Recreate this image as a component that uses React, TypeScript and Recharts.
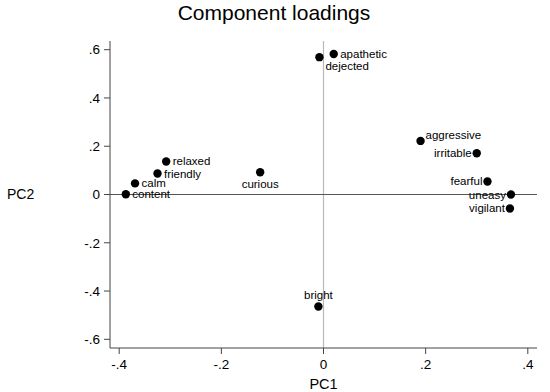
import { ScatterChart, Scatter, XAxis, YAxis, ReferenceLine } from 'recharts';

// PCA loadings
const NAMES = [
  'apathetic', 'dejected', 'relaxed', 'friendly', 'calm', 'content', 'curious',
  'aggressive', 'irritable', 'fearful', 'uneasy', 'vigilant', 'bright',
];
const PC1 = [0.02, -0.008, -0.308, -0.325, -0.369, -0.387, -0.124, 0.19, 0.3, 0.321, 0.367, 0.365, -0.01];
const PC2 = [0.582, 0.569, 0.137, 0.087, 0.046, 0.001, 0.092, 0.222, 0.171, 0.054, 0.0, -0.058, -0.464];

const X_TICKS = [-0.4, -0.2, 0, 0.2, 0.4];
const Y_TICKS = [-0.6, -0.4, -0.2, 0, 0.2, 0.4, 0.6];

// marker label placement (clock-ish): r, l, t, b, tr, br
const LABEL_POS: Record<string, string> = {
  dejected: 'br',
  curious: 'b',
  bright: 't',
  aggressive: 'tr',
  irritable: 'l',
  fearful: 'l',
  uneasy: 'l',
  vigilant: 'l',
};

const FONT = '"Liberation Sans", Arial, sans-serif';
const AXIS_COLOR = '#444';

const data = NAMES.map((name, i) => ({ name, x: PC1[i], y: PC2[i] }));

const fmt = (v: number) => (v === 0 ? '0' : v.toFixed(1).replace('0.', '.'));

function LabeledDot(props: any) {
  const { cx, cy, payload } = props;
  const pos = LABEL_POS[payload.name] ?? 'r';
  let tx = cx + 6.5;
  let ty = cy + 4;
  let anchor: 'start' | 'end' | 'middle' = 'start';
  if (pos === 'l') {
    tx = cx - 5;
    anchor = 'end';
  } else if (pos === 't') {
    tx = cx;
    ty = cy - 7;
    anchor = 'middle';
  } else if (pos === 'b') {
    tx = cx;
    ty = cy + 16;
    anchor = 'middle';
  } else if (pos === 'br') {
    tx = cx + 6;
    ty = cy + 12.6;
  } else if (pos === 'tr') {
    tx = cx + 5;
    ty = cy - 2;
  }
  return (
    <g>
      <circle cx={cx} cy={cy} r={4.2} fill="#000" />
      <text x={tx} y={ty} textAnchor={anchor} fontSize={11.5} fontFamily={FONT} fill="#000">
        {payload.name}
      </text>
    </g>
  );
}

export default function App() {
  return (
    <div style={{ position: 'absolute', left: 0, top: 0, width: 550, height: 392, background: '#fff' }}>
      <div
        style={{
          position: 'absolute',
          top: 0,
          left: 0,
          width: 548,
          textAlign: 'center',
          fontFamily: FONT,
          fontSize: 21,
          lineHeight: '26px',
          color: '#000',
        }}
      >
        Component loadings
      </div>
      <ScatterChart width={550} height={392} margin={{ top: 41, right: 13, bottom: 0, left: 0 }}>
        <XAxis
          type="number"
          dataKey="x"
          domain={[-0.418, 0.418]}
          ticks={X_TICKS}
          tickFormatter={fmt}
          allowDataOverflow
          height={44}
          tickSize={6}
          tickMargin={5}
          stroke={AXIS_COLOR}
          tick={{ fill: '#000', fontSize: 13.5, fontFamily: FONT }}
          label={{ value: 'PC1', position: 'insideBottom', offset: 3, fill: '#000', fontSize: 14.5, fontFamily: FONT }}
        />
        <YAxis
          type="number"
          dataKey="y"
          domain={[-0.636, 0.636]}
          ticks={Y_TICKS}
          tickFormatter={fmt}
          allowDataOverflow
          width={110}
          tickSize={6}
          tickMargin={4}
          stroke={AXIS_COLOR}
          tick={{ fill: '#000', fontSize: 13.5, fontFamily: FONT }}
          label={{ value: 'PC2', position: 'insideLeft', offset: 7, fill: '#000', fontSize: 14, fontFamily: FONT }}
        />
        <ReferenceLine x={0} stroke="#b8b8b8" strokeWidth={1.2} />
        <ReferenceLine y={0} stroke="#555" strokeWidth={1.2} />
        <Scatter data={data} shape={LabeledDot} isAnimationActive={false} />
      </ScatterChart>
    </div>
  );
}
